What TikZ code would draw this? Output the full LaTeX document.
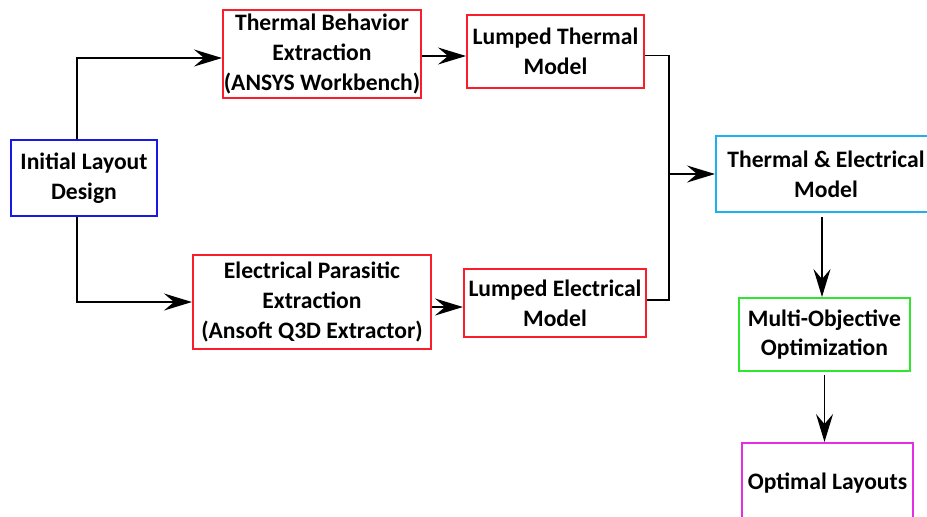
\documentclass[tikz,border=0pt]{standalone}
\usepackage{fontspec}
\setmainfont{Carlito}
\usepackage{tikz}
\usetikzlibrary{arrows,arrows.meta}
\definecolor{boxred}{RGB}{250,30,45}
\definecolor{boxblue}{RGB}{25,25,230}
\definecolor{boxcyan}{RGB}{30,175,240}
\definecolor{boxgreen}{RGB}{45,230,45}
\definecolor{boxpink}{RGB}{230,45,230}
\tikzstyle{block} = [draw, line width=1pt, align=center, inner sep=0pt, font=\fontsize{11.8pt}{14.8pt}\selectfont\bfseries]
\tikzstyle{arrow} = [line width=0.85pt, ->, >={Stealth[length=14pt,width=8.5pt,inset=5pt]}]

\begin{document}
\begin{tikzpicture}[x=0.5pt,y=-0.5pt]
        \useasboundingbox (0,0) rectangle (927,516);
        % boxes
        \node [block, boxblue, text=black, minimum width=73pt, minimum height=38pt] (init) at (84,178) {Initial Layout\\Design};
        \node [block, boxred, text=black, minimum width=99pt, minimum height=44pt] (thermb) at (322,54) {Thermal Behavior\\Extraction\\(ANSYS Workbench)};
        \node [block, boxred, text=black, minimum width=88.5pt, minimum height=36.5pt] (lumpt) at (555.5,51.5) {Lumped Thermal\\Model};
        \node [block, boxred, text=black, minimum width=119pt, minimum height=47pt] (elecp) at (312,302) {Electrical Parasitic\\Extraction\\(Ansoft Q3D Extractor)};
        \node [block, boxred, text=black, minimum width=91pt, minimum height=34pt] (lumpe) at (555,303) {Lumped Electrical\\Model};
        \node [block, boxcyan, text=black, minimum width=110pt, minimum height=38pt] (te) at (826,174) {Thermal \& Electrical\\Model};
        \node [block, boxgreen, text=black, minimum width=85.5pt, minimum height=36.5pt] (multi) at (824.5,334.5) {Multi-Objective\\Optimization};
        \node [block, boxpink, text=black, minimum width=85.5pt, minimum height=40pt] (optim) at (827.5,483) {Optimal Layouts};
        % connectors
        \coordinate (join) at (669,174);
        \draw [arrow] ([xshift=-3.5pt]init.north) |- ([yshift=-2pt]thermb.west);
        \draw [arrow] ([xshift=-3.5pt]init.south) |- (elecp.west);
        \draw [arrow] ([yshift=-1pt]thermb.east) -- ([yshift=-1pt]thermb.east -| lumpt.west);
        \draw [arrow] ([yshift=-2.5pt]elecp.east) -- ([yshift=-2.5pt]elecp.east -| lumpe.west);
        \draw [line width=0.85pt] ([yshift=-2pt]lumpt.east) -| (join) |- ([yshift=1.5pt]lumpe.east);
        \draw [arrow] (join) -- (te.west);
        \draw [arrow] ([xshift=-2pt,yshift=-2pt]te.south) -- ([xshift=-2pt]te.south |- multi.north);
        \draw [arrow] ([yshift=-1.5pt]multi.south) -- (multi.south |- optim.north);
\end{tikzpicture}
\end{document}
